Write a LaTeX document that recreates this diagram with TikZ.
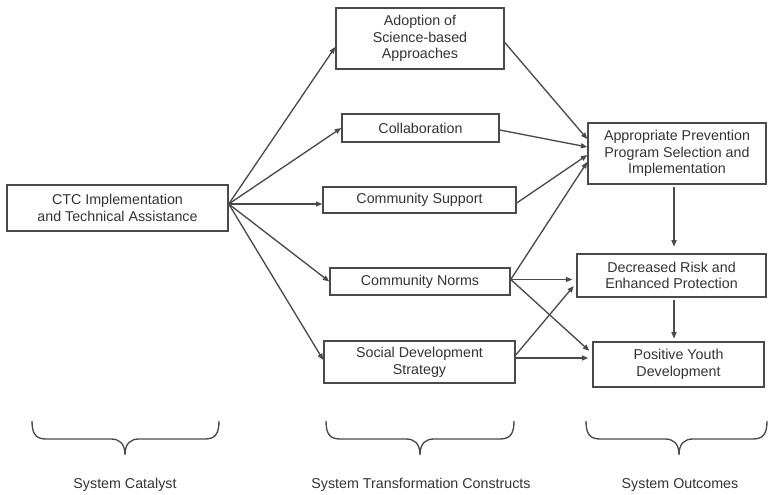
\documentclass[tikz,border=0pt]{standalone}
\usepackage{fontspec}
\setmainfont{Liberation Sans}
\usetikzlibrary{arrows.meta,calc}
\definecolor{ink}{HTML}{333333}
\definecolor{edge}{HTML}{4A4A4A}
\begin{document}
\begin{tikzpicture}[x=0.75pt,y=-0.75pt,
  font=\fontsize{10.7}{12.6}\selectfont,
  box/.style={draw=edge,line width=1.1pt,inner sep=0pt,align=center,text=ink},
  link/.style={draw=edge,line width=1pt,-{Triangle[length=4.8pt,width=3.8pt]}},
  brace/.style={draw=edge,line width=1pt},
  caption/.style={text=ink,inner sep=0pt}]
\useasboundingbox (0,0) rectangle (768,495);

% catalyst
\node[box,minimum width=221*0.75pt,minimum height=46*0.75pt] (ctc) at (117.5,208)
  {CTC Implementation\\and Technical Assistance};

% transformation constructs
\node[box,minimum width=168*0.75pt,minimum height=61*0.75pt] (sci) at (420,38.5)
  {Adoption of\\Science-based\\Approaches};
\node[box,minimum width=157*0.75pt,minimum height=28*0.75pt] (col) at (420.5,128)
  {Collaboration};
\node[box,minimum width=193*0.75pt,minimum height=26*0.75pt] (sup) at (419.5,200)
  {Community Support};
\node[box,minimum width=180*0.75pt,minimum height=27*0.75pt] (nor) at (420,281.5)
  {Community Norms};
\node[box,minimum width=191*0.75pt,minimum height=42*0.75pt] (sds) at (419.5,362)
  {Social Development\\Strategy};

% outcomes
\node[box,minimum width=178*0.75pt,minimum height=61*0.75pt] (app) at (677,153.5)
  {Appropriate Prevention\\Program Selection and\\Implementation};
\node[box,minimum width=189*0.75pt,minimum height=43*0.75pt] (dec) at (671.5,275.5)
  {Decreased Risk and\\Enhanced Protection};
\node[box,minimum width=171*0.75pt,minimum height=45*0.75pt] (pyd) at (678.5,364.5)
  {Positive Youth\\Development};

% catalyst to constructs
\coordinate (out) at ($(ctc.east)+(0,-4)$);
\draw[link] (out) -- ($(sci.west)+(0,8.5)$);
\draw[link] (out) -- (col.west);
\draw[link] (out) -- (out -| sup.west);
\draw[link] (out) -- (nor.west);
\draw[link] (out) -- ($(sds.west)+(0,-2)$);

% constructs to outcomes
\coordinate (nout) at ($(nor.east)+(0,-2)$);
\coordinate (sout) at ($(sds.east)+(0,-4)$);
\draw[link] ($(sci.east)+(0,4)$) -- ($(app.west)+(0,-14.5)$);
\draw[link] ($(col.east)+(0,2)$) -- ($(app.west)+(0,-6.5)$);
\draw[link] ($(sup.east)+(0,3)$) -- ($(app.west)+(0,1.5)$);
\draw[link] (nout) -- ($(app.west)+(0,8.5)$);
\draw[link,shorten >=3pt] (nout) -- (nout -| dec.west);
\draw[link,shorten >=3pt] (nout) -- ($(pyd.west)+(0,-11)$);
\draw[link,shorten >=3pt] ($(sds.east)+(0,-7)$) -- ($(dec.west)+(0,7.5)$);
\draw[link,shorten >=3pt] (sout) -- (sout -| pyd.west);

% outcome chain
\draw[link,shorten <=2pt,shorten >=5pt] (app.south -| 674,0) -- (dec.north -| 674,0);
\draw[link,shorten <=2pt,shorten >=2pt] (dec.south -| 674,0) -- (pyd.north -| 674,0);

% braces under the three columns
\draw[brace] (32,421) .. controls (32,434) and (36,439) .. (46,439) -- (111,439)
  .. controls (119,439) and (125,443) .. (125,455)
  .. controls (125,443) and (131,439) .. (139,439) -- (205,439)
  .. controls (215,439) and (219,434) .. (219,421);
\draw[brace] (326,421) .. controls (326,434) and (330,439) .. (340,439) -- (406,439)
  .. controls (414,439) and (420,443) .. (420,455)
  .. controls (420,443) and (426,439) .. (434,439) -- (500,439)
  .. controls (510,439) and (514,434) .. (514,421);
\draw[brace] (586,421) .. controls (586,434) and (590,439) .. (600,439) -- (665,439)
  .. controls (673,439) and (679,443) .. (679,455)
  .. controls (679,443) and (685,439) .. (693,439) -- (753,439)
  .. controls (763,439) and (767,434) .. (767,421);

\node[caption] (lc) at (125,485) {System Catalyst};
\node[caption] (lm) at (421,485) {System Transformation Constructs};
\node[caption] (lr) at (680,485) {System Outcomes};
\end{tikzpicture}
\end{document}
